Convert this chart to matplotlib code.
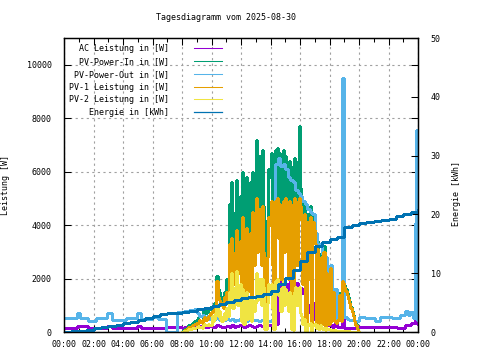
import numpy as np
import matplotlib.pyplot as plt
from matplotlib.ticker import MultipleLocator

plt.rcParams['font.family'] = 'DejaVu Sans Mono'
plt.rcParams['font.size'] = 6

title = 'Tagesdiagramm vom 2025-08-30'
x_tick_labels = ['00:00', '02:00', '04:00', '06:00', '08:00', '10:00', '12:00',
                 '14:00', '16:00', '18:00', '20:00', '22:00', '00:00']
labels = ['AC Leistung in [W]', 'PV-Power-In in [W]', 'PV-Power-Out in [W]',
          'PV-1 Leistung in [W]', 'PV-2 Leistung in [W]', 'Energie in [kWh]']

# PV samples every 5 minutes, 08:00 .. 20:00 (145 values)
pv_hours = np.arange(8 * 12, 20 * 12 + 1) / 12

pv_in = [
    0, 60, 120, 150, 200, 250, 280, 300, 350, 380, 400, 420,                          # 08
    500, 550, 650, 600, 550, 800, 850, 700, 750, 900, 850, 950,                       # 09
    800, 900, 1100, 1000, 2100, 1600, 1500, 1200, 1300, 1100, 1500, 1400,             # 10
    2000, 1700, 4800, 3000, 5600, 2800, 3300, 4500, 5700, 3200, 4300, 5100,           # 11
    1400, 6000, 1200, 2800, 5800, 2400, 3100, 5600, 2000, 6000, 3700, 5500,           # 12
    7200, 4500, 6000, 6600, 3800, 6800, 4700, 600, 500, 4200, 6100, 5800,             # 13
    6700, 3500, 500, 400, 6800, 6900, 5100, 6700, 3000, 6500, 6800, 4200,             # 14
    6600, 5500, 3000, 6400, 6200, 500, 400, 6500, 6300, 3500, 6400, 7700,             # 15
    5400, 4800, 2300, 4900, 500, 400, 4400, 2400, 4700, 500, 4400, 4000,              # 16
    3600, 400, 3400, 350, 2800, 2950, 400, 3200, 350, 2400, 1950, 400,                # 17
    2500, 460, 560, 1560, 450, 400, 450, 540, 1450, 450, 1930, 1900,                  # 18
    1750, 1600, 1450, 1300, 1150, 950, 800, 650, 450, 300, 150, 0,                    # 19
    0]
pv1 = [
    0, 40, 80, 100, 150, 180, 200, 220, 250, 280, 300, 320,
    300, 350, 450, 400, 350, 500, 550, 450, 500, 600, 650, 700,
    800, 750, 900, 850, 1900, 1300, 1200, 1000, 1100, 900, 1300, 1200,
    1500, 1200, 3300, 2000, 3500, 1800, 2000, 3000, 3800, 2200, 2800, 3400,
    1200, 4300, 900, 1800, 3900, 1500, 2200, 3700, 1300, 4500, 2500, 3900,
    5000, 3000, 4400, 4600, 2500, 4700, 3000, 400, 300, 2800, 4300, 4000,
    4900, 2500, 300, 200, 4900, 5000, 3500, 4800, 2000, 4700, 4900, 3000,
    5000, 4200, 2000, 4900, 4800, 300, 200, 5000, 4700, 2500, 4900, 5000,
    4700, 4200, 1800, 4400, 300, 200, 4100, 2000, 4300, 300, 4100, 3800,
    3300, 300, 3100, 200, 2600, 2800, 300, 3000, 200, 2200, 1800, 300,
    2400, 400, 500, 1500, 400, 350, 400, 500, 1400, 400, 1900, 1850,
    1700, 1550, 1400, 1250, 1100, 900, 750, 600, 400, 250, 100, 0,
    0]
pv2 = [
    0, 20, 40, 50, 80, 100, 100, 120, 150, 150, 160, 180,
    200, 220, 200, 180, 150, 250, 300, 250, 250, 300, 250, 280,
    600, 400, 500, 700, 900, 600, 800, 500, 400, 600, 700, 500,
    900, 600, 1500, 1000, 2200, 900, 1200, 1700, 2300, 1000, 1500, 1800,
    400, 1600, 300, 700, 1500, 500, 600, 1300, 400, 1200, 800, 1100,
    2200, 1200, 1600, 2000, 1000, 2000, 1700, 100, 100, 1100, 1800, 1600,
    1800, 900, 100, 100, 1900, 2000, 1400, 1600, 800, 1700, 1900, 1000,
    1600, 1300, 800, 1500, 1400, 100, 80, 1500, 1700, 1000, 1300, 1700,
    700, 600, 300, 500, 50, 50, 300, 250, 350, 50, 250, 300,
    300, 150, 250, 100, 250, 200, 100, 150, 80, 150, 100, 100,
    80, 60, 60, 50, 60, 50, 50, 40, 40, 30, 30, 30,
    30, 20, 20, 20, 20, 10, 10, 0, 0, 0, 0, 0,
    0]

# daytime samples every 10 minutes, 08:00 .. 20:00 (73 values)
day_hours = np.arange(8 * 6, 20 * 6 + 1) / 6

pv_out_day = [
    750, 800, 780, 820, 800, 850,
    700, 600, 650, 550, 600, 500,
    450, 500, 600, 450, 500, 450,
    500, 450, 500, 400, 450, 500,
    450, 500, 400, 450, 500, 450,
    450, 400, 450, 500, 450, 400,
    450, 500, 6300, 6500, 6200, 6300,
    6100, 5800, 5700, 5600, 5300, 5200,
    5100, 4900, 4800, 4600, 4500, 4400,
    3700, 3300, 3200, 2900, 2800, 1000,
    2500, 600, 1600, 500, 600, 9500,
    550, 500, 450, 450, 420, 420,
    570]
ac_day = [
    160, 170, 200, 180, 200, 190,
    200, 220, 200, 180, 200, 210,
    200, 190, 250, 220, 200, 200,
    220, 200, 250, 200, 220, 260,
    250, 200, 220, 280, 240, 200,
    220, 250, 230, 200, 240, 260,
    250, 240, 300, 1950, 1200, 1500,
    1800, 1000, 1900, 1400, 1850, 1700,
    1650, 1450, 1500, 1000, 700, 1100,
    450, 800, 300, 700, 400, 250,
    250, 200, 300, 180, 200, 3000,
    160, 160, 150, 160, 160, 160,
    200]

# night / evening parts, value changes at the given hours
pv_out_night_h = [0, 0.88, 1.08, 1.63, 2.17, 2.92, 3.25, 4.2, 4.95, 5.22, 5.97, 6.37, 6.92, 7.66]
pv_out_night = [510, 710, 510, 420, 510, 710, 450, 510, 710, 490, 570, 490, 0, 750]
pv_out_eve_h = [20.4, 21.08, 21.42, 22.24, 22.78, 23.12, 23.32, 23.46, 23.66, 23.8, 23.86, 23.92, 24.0]
pv_out_eve = [510, 420, 560, 510, 640, 800, 640, 760, 510, 4080, 7550, 450, 450]

ac_night_h = [0, 0.88, 1.63, 2.92, 3.25, 4.95, 5.22, 7.0]
ac_night = [160, 220, 160, 220, 160, 210, 160, 170]
ac_eve_h = [20.5, 22.0, 22.6, 23.1, 23.5, 23.8, 23.9, 24.0]
ac_eve = [200, 170, 150, 260, 330, 560, 300, 300]

# energy, every 30 minutes
energy_h = np.arange(0, 49) / 2
energy = [0.0, 0.1, 0.2, 0.4, 0.6, 0.8, 1.0, 1.25, 1.5, 1.75, 2.0, 2.35, 2.7,
          3.0, 3.25, 3.3, 3.4, 3.6, 3.9, 4.15, 4.4, 4.7, 5.1, 5.5, 5.8, 5.95,
          6.1, 6.5, 7.0, 8.1, 9.2, 10.5, 12.0, 13.6, 14.6, 15.3, 15.8, 16.2,
          17.8, 18.2, 18.5, 18.65, 18.8, 19.05, 19.3, 19.65, 20.0, 20.35, 20.7]

ac_h = np.concatenate([ac_night_h, day_hours, ac_eve_h])
ac = np.concatenate([ac_night, ac_day, ac_eve])
pv_out_h = np.concatenate([pv_out_night_h, day_hours, pv_out_eve_h])
pv_out = np.concatenate([pv_out_night, pv_out_day, pv_out_eve])

fig = plt.figure(figsize=(4.8, 3.6), dpi=100)
ax1 = fig.add_axes([64 / 480, 28 / 360, 354 / 480, 294 / 360])
ax2 = ax1.twinx()

kw = dict(drawstyle='steps-post', lw=0.75, antialiased=False)
h_ac, = ax1.plot(ac_h, ac, color='#9400d3', **kw)
h_in, = ax1.plot(pv_hours, pv_in, color='#009e73', **kw)
h_out, = ax1.plot(pv_out_h, pv_out, color='#56b4e9', **kw)
h_pv1, = ax1.plot(pv_hours, pv1, color='#e69f00', **kw)
h_pv2, = ax1.plot(pv_hours, pv2, color='#f0e442', **kw)
h_en, = ax2.plot(energy_h, energy, color='#0072b2', drawstyle='steps-post', lw=0.9, antialiased=False)

ax1.set_xlim(0, 24)
ax1.set_ylim(0, 11000)
ax2.set_ylim(0, 50)

ax1.set_xticks(np.arange(0, 25, 2))
ax1.set_xticklabels(x_tick_labels)
ax1.xaxis.set_minor_locator(MultipleLocator(1))
ax1.set_yticks(np.arange(0, 10001, 2000))
ax2.set_yticks(np.arange(0, 51, 10))

ax1.tick_params(which='major', direction='in', length=5, width=0.75, top=True, right=True)
ax1.tick_params(which='minor', direction='in', length=3, width=0.75, top=True)
ax1.tick_params(axis='x', pad=6)
ax1.tick_params(axis='y', pad=9)
ax2.tick_params(direction='in', length=5, width=0.75, pad=9)
for ax in (ax1, ax2):
    for s in ax.spines.values():
        s.set_linewidth(0.9)

ax1.grid(True, which='major', color='#a0a0a0', linestyle=(0, (2, 3)), linewidth=0.8)

ax1.set_ylabel('Leistung [W]')
ax1.yaxis.set_label_coords(-0.152, 0.5)
ax2.set_ylabel('Energie [kWh]')
ax2.yaxis.set_label_coords(1.096, 0.47)

fig.text(226.5 / 480, 1 - 18 / 360, title, ha='center', va='center')

width = max(len(l) for l in labels)
padded = [l.rjust(width) for l in labels]
ax2.legend([h_ac, h_in, h_out, h_pv1, h_pv2, h_en], padded, loc='upper left',
           bbox_to_anchor=(0.005, 0.99), frameon=False, markerfirst=False,
           handlelength=3.4, handletextpad=3.0, labelspacing=0.45,
           borderaxespad=0, fontsize=6)

fig.savefig('out.png', dpi=100)
